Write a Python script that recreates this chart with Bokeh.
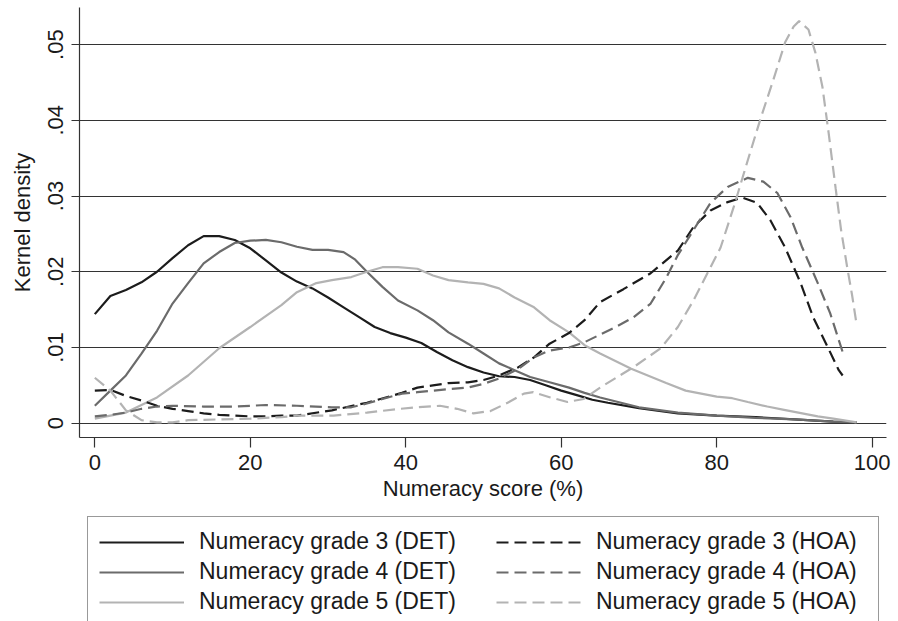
from bokeh.plotting import figure
from bokeh.layouts import column
from bokeh.models import Range1d, FixedTicker, CustomJSTickFormatter, Legend, LegendItem
from bokeh.embed import file_html
from bokeh.resources import INLINE

# ---- data ----
x_ticks = [0, 20, 40, 60, 80, 100]
y_ticks = [0, 0.01, 0.02, 0.03, 0.04, 0.05]

g3_det_x = [0, 2, 4, 6, 8, 10, 12, 14, 16, 18, 20, 22, 24, 26, 28, 30, 32, 34, 36, 38, 40, 42, 44, 46, 48, 50,
            52, 54, 56, 58, 60, 62, 64, 66, 70, 75, 80, 85, 90, 95, 98]
g3_det_y = [.0144, .0168, .0176, .0186, .0200, .0218, .0235, .0247, .0247, .0242, .0231, .0215, .0199, .0187,
            .0178, .0166, .0153, .0140, .0127, .0119, .0113, .0106, .0094, .0083, .0074, .0067, .0062, .0061,
            .0057, .0050, .0043, .0037, .0031, .0027, .0020, .0013, .0010, .0008, .0005, .0002, .0001]

g4_det_x = [0, 2, 4, 6, 8, 10, 12, 14, 16, 18, 20, 22, 24, 26, 28, 30, 32, 33.5, 35, 37, 39, 41.5, 43.5, 45.5,
            48, 50, 52, 54, 56, 58.5, 61, 63, 65, 70, 75, 80, 85, 90, 95, 98]
g4_det_y = [.0023, .0043, .0063, .0092, .0122, .0158, .0185, .0211, .0226, .0238, .0241, .0242, .0239, .0233,
            .0229, .0229, .0226, .0216, .0200, .0180, .0162, .0149, .0136, .0120, .0105, .0092, .0079, .0070,
            .0061, .0054, .0047, .0040, .0034, .0021, .0014, .0010, .0007, .0005, .0002, .0001]

g5_det_x = [0, 4, 8, 12, 16, 20, 24, 26, 28.5, 30.5, 33, 35, 37, 39, 41.5, 43.5, 45.5, 48, 50, 52, 54, 56.5,
            58.5, 61, 63, 65, 69, 73.5, 76, 78, 80, 82, 84, 86.5, 88.5, 91, 93, 95, 98]
g5_det_y = [.0006, .0014, .0034, .0063, .0099, .0127, .0156, .0173, .0185, .0189, .0193, .0200, .0206, .0206,
            .0204, .0195, .0189, .0186, .0184, .0178, .0166, .0153, .0136, .0120, .0103, .0092, .0072, .0053,
            .0043, .0039, .0035, .0033, .0028, .0022, .0018, .0013, .0009, .0006, .0001]

g3_hoa_x = [0, 2, 4, 6, 8, 10, 12, 14, 16, 18, 20, 22, 24, 26, 30.5, 35, 39.5, 41.5, 43.5, 45.5, 48, 50, 52,
            54.5, 56.5, 58.5, 61, 63, 65, 68, 71.5, 75, 77, 79.2, 81.4, 83.3, 85.2, 86.9, 88.8, 90.8, 92.4,
            94.3, 95.7, 96.2]
g3_hoa_y = [.0043, .0044, .0036, .0030, .0023, .0019, .0016, .0013, .0011, .0010, .0009, .0009, .0010, .0010,
            .0017, .0027, .0040, .0047, .0050, .0053, .0054, .0057, .0063, .0074, .0087, .0105, .0119, .0136,
            .0160, .0177, .0198, .0228, .0259, .0281, .0292, .0298, .0291, .0268, .0232, .0185, .0140, .0100,
            .0070, .0063]

g4_hoa_x = [0, 2, 4, 6, 8, 10, 14, 18, 22, 26, 30.5, 33, 35, 37, 39.5, 41.5, 43.5, 45.5, 48, 50, 52, 54.5,
            56.5, 58.5, 61, 63, 65, 67, 69.3, 71.5, 73.5, 75, 77, 79.2, 81.4, 84, 86, 87.8, 89.5, 91, 93, 94.6,
            96.2]
g4_hoa_y = [.0009, .0011, .0014, .0019, .0022, .0023, .0022, .0022, .0024, .0023, .0021, .0021, .0026, .0032,
            .0039, .0041, .0043, .0045, .0047, .0052, .0059, .0072, .0087, .0096, .0100, .0107, .0117, .0127,
            .0140, .0158, .0192, .0222, .0255, .0291, .0312, .0324, .0319, .0304, .0272, .0232, .0185, .0145,
            .0094]

g5_hoa_x = [0, 2, 4, 6, 8, 10, 12, 16, 20, 24, 26, 30.7, 35, 39.3, 41.5, 44.4, 46.6, 48.7, 50.9, 53.1, 55.2,
            56.4, 58.6, 60.8, 62.9, 65, 69.3, 72.8, 75, 77, 78.8, 80.5, 82.2, 83.9, 85.6, 87.3, 88.8, 89.9, 90.6,
            91.8, 92.7, 93.6, 94.4, 95.3, 96, 96.8, 97.4, 98]
g5_hoa_y = [.0060, .0043, .0017, .0004, .0001, .0001, .0004, .0005, .0006, .0008, .0010, .0010, .0014, .0019,
            .0021, .0023, .0019, .0013, .0016, .0027, .0039, .0041, .0034, .0028, .0032, .0047, .0074, .0099,
            .0127, .0162, .0198, .0232, .0286, .0344, .0401, .0454, .0503, .0524, .0531, .0520, .0489, .0444,
            .0383, .0310, .0255, .0205, .0170, .0130]

det_labels = ["Numeracy grade 3 (DET)", "Numeracy grade 4 (DET)", "Numeracy grade 5 (DET)"]
hoa_labels = ["Numeracy grade 3 (HOA)", "Numeracy grade 4 (HOA)", "Numeracy grade 5 (HOA)"]

# ---- style ----
FONT = "Liberation Sans"
TXT = "#1a1a1a"
C3, C4, C5 = "#1c1c1c", "#6b6b6b", "#b3b3b3"
LW = 2.2
DASH = "12 6"
WIDTH = 894
FRAME_L = 79
FRAME_W = 807

p = figure(frame_width=FRAME_W, frame_height=430, output_backend="svg", toolbar_location=None,
           x_range=Range1d(-1.97, 101.84), y_range=Range1d(-0.00189, 0.0549),
           min_border_left=FRAME_L, min_border_right=WIDTH - FRAME_L - FRAME_W,
           min_border_top=7, min_border_bottom=70)
p.outline_line_color = None
p.background_fill_color = "white"
p.border_fill_color = "white"

series = [(g3_det_x, g3_det_y, C3, None), (g4_det_x, g4_det_y, C4, None), (g5_det_x, g5_det_y, C5, None),
          (g3_hoa_x, g3_hoa_y, C3, DASH), (g4_hoa_x, g4_hoa_y, C4, DASH), (g5_hoa_x, g5_hoa_y, C5, DASH)]


def add_line(fig, xs, ys, col, dash):
    if dash:
        return fig.line(xs, ys, line_color=col, line_width=LW, line_dash=dash)
    return fig.line(xs, ys, line_color=col, line_width=LW)


for s in series:
    add_line(p, *s)

# axes
p.xaxis.ticker = FixedTicker(ticks=x_ticks)
p.yaxis.ticker = FixedTicker(ticks=y_ticks)
p.yaxis.formatter = CustomJSTickFormatter(code="return tick == 0 ? '0' : tick.toFixed(2).replace(/^0/, '');")
p.xaxis.axis_label = "Numeracy score (%)"
p.yaxis.axis_label = "Kernel density"
for ax in (p.xaxis[0], p.yaxis[0]):
    ax.axis_line_color = "#333333"
    ax.axis_line_width = 1.2
    ax.major_tick_line_color = "#333333"
    ax.major_tick_line_width = 1.2
    ax.minor_tick_line_color = None
    ax.major_tick_in = 0
    ax.major_label_text_font = FONT
    ax.major_label_text_font_size = "22px"
    ax.major_label_text_color = TXT
    ax.axis_label_text_font = FONT
    ax.axis_label_text_font_size = "22px"
    ax.axis_label_text_font_style = "normal"
    ax.axis_label_text_color = TXT
p.xaxis.major_tick_out = 10
p.xaxis.major_label_standoff = 7
p.xaxis.axis_label_standoff = 3
p.yaxis.major_tick_out = 8
p.yaxis.major_label_standoff = 8
p.yaxis.axis_label_standoff = 11
p.yaxis.major_label_orientation = "parallel"

p.xgrid.visible = False
p.ygrid.grid_line_color = "#333333"
p.ygrid.grid_line_width = 1.2

# ---- legend panel below the plot (same series, plotted out of view; only the legend shows) ----
LEG_H = 621 - 507
q = figure(frame_width=FRAME_W, frame_height=LEG_H, output_backend="svg", toolbar_location=None,
           x_range=Range1d(1000, 1001), y_range=Range1d(1000, 1001),
           min_border_left=FRAME_L, min_border_right=WIDTH - FRAME_L - FRAME_W,
           min_border_top=0, min_border_bottom=0)
q.axis.visible = False
q.grid.visible = False
q.outline_line_color = None
q.background_fill_color = "white"
q.border_fill_color = "white"

proxies = [add_line(q, *s) for s in series]

common = dict(orientation="vertical", glyph_width=85, glyph_height=26, label_height=26,
              label_standoff=15, spacing=3, padding=11, margin=0,
              label_text_font=FONT, label_text_font_size="23px", label_text_color=TXT)

leg_det = Legend(items=[LegendItem(label=det_labels[i], renderers=[proxies[i]]) for i in range(3)],
                 location=(87 - FRAME_L, -6), label_width=668,
                 border_line_color="#333333", border_line_width=1.2,
                 background_fill_color="white", background_fill_alpha=1.0, **common)
leg_hoa = Legend(items=[LegendItem(label=hoa_labels[i], renderers=[proxies[3 + i]]) for i in range(3)],
                 location=(496 - FRAME_L, 6), label_width=269,
                 border_line_color=None, background_fill_alpha=0.0, **common)
q.add_layout(leg_det, "center")
q.add_layout(leg_hoa, "center")

layout = column(p, q, spacing=0)
open("out.html", "w").write(file_html(layout, INLINE))
